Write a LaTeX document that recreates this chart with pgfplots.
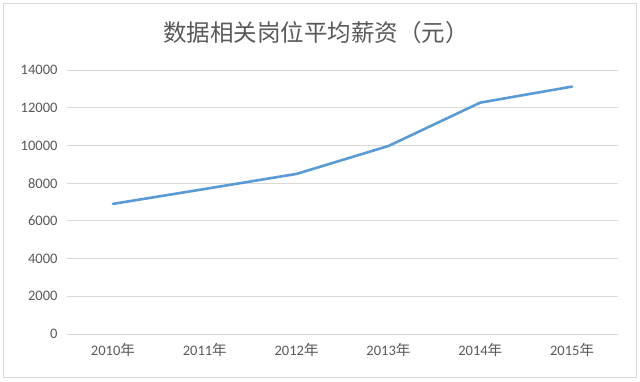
\documentclass[border=0pt]{standalone}
\usepackage{pgfplots}
\pgfplotsset{compat=1.18}
\usepackage{fontspec}
\setmainfont{Carlito}
\newfontfamily\cjk{Noto Sans CJK SC}
\definecolor{txt}{HTML}{595959}
\definecolor{grid}{HTML}{D9D9D9}
\definecolor{line}{HTML}{5B9BD5}
\begin{document}
\begin{tikzpicture}[x=1pt,y=1pt]
\fill[white] (0,0) rectangle (640,381);
\useasboundingbox (0,0) rectangle (640,381);
\draw[color=grid, line width=1pt] (3,4) rectangle (636,377);
\node[text=txt, font=\cjk\fontsize{23.5}{28}\selectfont] at (316,348) {数据相关岗位平均薪资（元）};
\begin{axis}[
  at={(67pt,47pt)}, anchor=south west,
  scale only axis, width=551pt, height=264pt,
  xmin=-0.5, xmax=5.5, ymin=0, ymax=14000,
  ytick={0,2000,...,14000},
  xtick={0,1,2,3,4,5},
  xticklabels={2010{\cjk 年},2011{\cjk 年},2012{\cjk 年},2013{\cjk 年},2014{\cjk 年},2015{\cjk 年}},
  axis line style={draw=none},
  tick style={draw=none},
  ymajorgrids, grid style={color=grid, line width=0.9pt},
  /pgf/number format/assume math mode=true,
  /pgf/number format/1000 sep={},
  scaled y ticks=false,
  tick label style={text=txt, font=\fontsize{14.5}{17}\selectfont},
  yticklabel style={xshift=-6pt},
  xticklabel style={yshift=-6pt},
  clip=false,
]
\addplot[color=line, line width=2.6pt, line join=round, line cap=round] coordinates {
  (0,6900) (1,7690) (2,8490) (3,9970) (4,12270) (5,13120)
};
\end{axis}
\end{tikzpicture}
\end{document}
